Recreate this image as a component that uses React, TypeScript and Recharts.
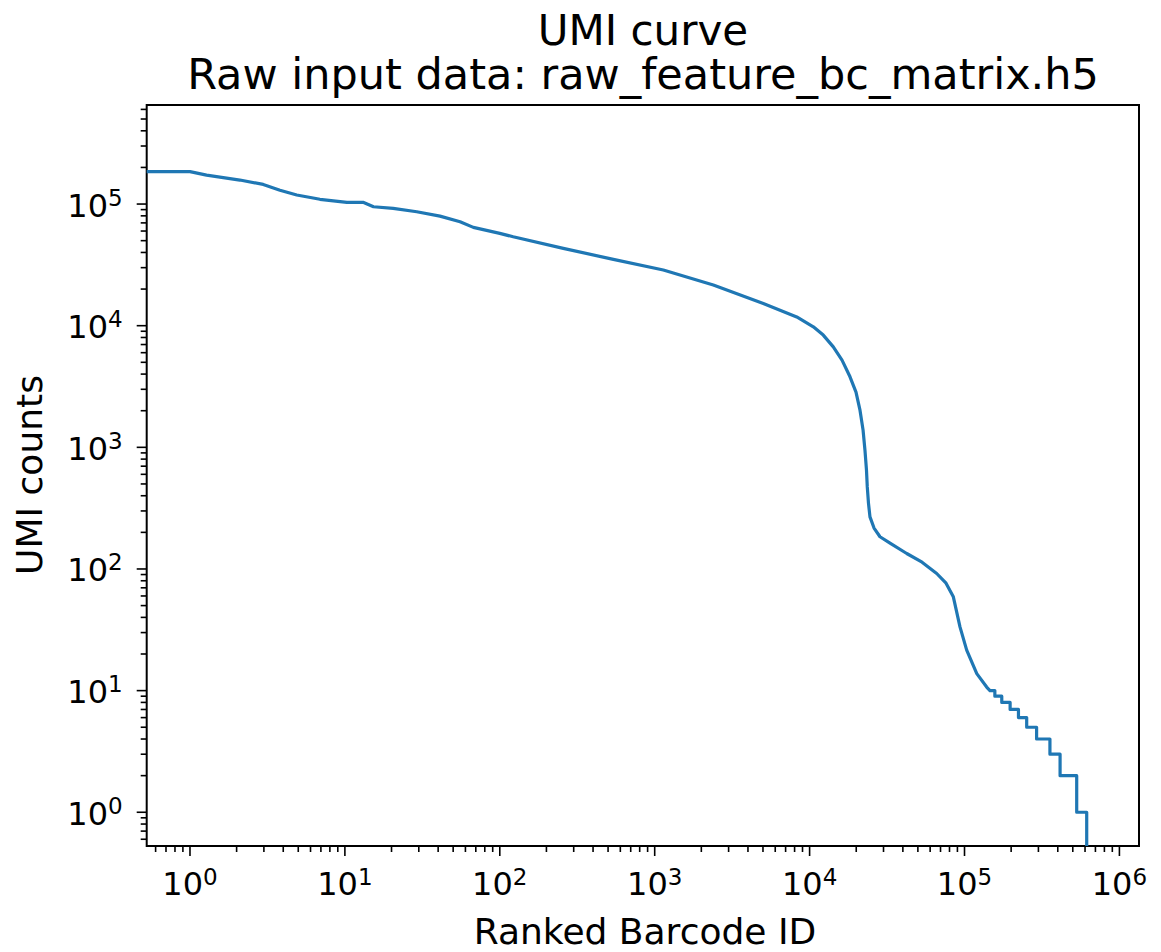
import { LineChart, Line, XAxis, YAxis, ReferenceArea } from "recharts";

// ranked barcode id (x) and UMI count (y)
const ranks = [
  0.5, 1, 1.28, 2.1, 2.97, 3.81, 4.89, 6.9, 10.3, 13.1, 15.3, 20.5, 29.1, 41.1,
  55.4, 67.5, 100, 122, 257, 541, 1137, 2390, 5025, 8260, 10570, 12250, 14220,
  16190, 18230, 19930, 21150, 22140, 22770, 23290, 23570, 23990, 24530, 26060,
  28470, 33040, 42360, 53190, 66130, 76000, 84700, 93500, 103300, 120000,
  139000, 146000, 157000, 157000, 174000, 174000, 197000, 197000, 223000,
  223000, 252000, 252000, 292000, 292000, 356000, 356000, 414000, 414000,
  530000, 530000, 615000, 615000,
];
const umiCounts = [
  184500, 184500, 173000, 157500, 145000, 130000, 118600, 109400, 103300,
  103300, 95000, 92200, 86500, 79600, 71500, 64300, 57400, 53800, 43200, 35100,
  28700, 21600, 15250, 11800, 9800, 8370, 6700, 5215, 3800, 2844, 2020, 1385,
  948, 649, 473, 348, 268, 217, 184, 163, 134, 113.7, 91.8, 76.4, 59, 33.4,
  21.5, 13.8, 10.7, 10, 10, 9, 9, 8, 8, 7, 7, 6, 6, 5, 5, 4, 4, 3, 3, 2, 2, 1,
  1, 0.1,
];

const xExponents = [0, 1, 2, 3, 4, 5, 6];
const yExponents = [0, 1, 2, 3, 4, 5];
const xDomain = [0.5255, 1.338e6];
const yDomain = [0.528, 6.52e5];

const data = ranks.map((r, i) => ({ rank: r, umi: umiCounts[i] }));

function logTicks(domain: number[]) {
  const out: number[] = [];
  for (let e = -2; e <= 7; e++) {
    for (let m = 1; m <= 9; m++) {
      const v = m * Math.pow(10, e);
      if (v >= domain[0] && v <= domain[1]) out.push(v);
    }
  }
  return out;
}

const FONT = "DejaVu Sans, sans-serif";

function isMajor(v: number) {
  const e = Math.log10(v);
  return Math.abs(e - Math.round(e)) < 1e-9;
}

function XTick(props: any) {
  const { x, y, payload } = props;
  const v = payload.value;
  const major = isMajor(v);
  const exp = Math.round(Math.log10(v));
  return (
    <g>
      <line x1={x} x2={x} y1={y} y2={y + (major ? 10 : 6)} stroke="#000" strokeWidth={1.6} />
      {major && xExponents.includes(exp) && (
        <text x={x} y={y + 49} textAnchor="middle" fontFamily={FONT} fontSize={32} fill="#000">
          <tspan>10</tspan>
          <tspan fontSize={23} dy={-10}>{exp}</tspan>
        </text>
      )}
    </g>
  );
}

function YTick(props: any) {
  const { x, y, payload } = props;
  const v = payload.value;
  const major = isMajor(v);
  const exp = Math.round(Math.log10(v));
  return (
    <g>
      <line x1={x} x2={x - (major ? 10 : 6)} y1={y} y2={y} stroke="#000" strokeWidth={1.6} />
      {major && yExponents.includes(exp) && (
        <text x={x - 24} y={y + 12.5} textAnchor="end" fontFamily={FONT} fontSize={32} fill="#000">
          <tspan>10</tspan>
          <tspan fontSize={23} dy={-11}>{exp}</tspan>
        </text>
      )}
    </g>
  );
}

export default function App() {
  return (
    <div style={{ position: "relative", width: 1150, height: 944, background: "#fff" }}>
      <LineChart
        width={1150}
        height={944}
        data={data}
        margin={{ top: 97, right: 19, bottom: 46, left: 0 }}
      >
        <XAxis
          dataKey="rank"
          type="number"
          scale="log"
          domain={xDomain}
          allowDataOverflow
          ticks={logTicks(xDomain)}
          interval={0}
          tick={<XTick />}
          tickLine={false}
          axisLine={false}
          tickSize={0}
          tickMargin={0}
          height={60}
        />
        <YAxis
          dataKey="umi"
          type="number"
          scale="log"
          domain={yDomain}
          allowDataOverflow
          ticks={logTicks(yDomain)}
          interval={0}
          tick={<YTick />}
          tickLine={false}
          axisLine={false}
          tickSize={0}
          tickMargin={0}
          width={138.7}
        />
        <Line
          type="linear"
          dataKey="umi"
          stroke="#1f77b4"
          strokeWidth={3.2}
          strokeLinejoin="round"
          dot={false}
          isAnimationActive={false}
        />
        <ReferenceArea
          x1={xDomain[0]}
          x2={xDomain[1]}
          y1={yDomain[0]}
          y2={yDomain[1]}
          fill="none"
          fillOpacity={0}
          stroke="#000"
          strokeWidth={2}
          ifOverflow="visible"
        />
      </LineChart>
      <svg
        width={1150}
        height={944}
        style={{ position: "absolute", left: 0, top: 0, pointerEvents: "none" }}
      >
        <text x={635} y={37} textAnchor="middle" fontFamily={FONT} fontSize={42} fill="#000">
          UMI curve
        </text>
        <text x={635} y={81} textAnchor="middle" fontFamily={FONT} fontSize={43} fill="#000">
          Raw input data: raw_feature_bc_matrix.h5
        </text>
        <text x={637} y={936} textAnchor="middle" fontFamily={FONT} fontSize={36} fill="#000">
          Ranked Barcode ID
        </text>
        <text
          x={33.5}
          y={467}
          textAnchor="middle"
          fontFamily={FONT}
          fontSize={36}
          fill="#000"
          transform="rotate(-90 33.5 467)"
        >
          UMI counts
        </text>
      </svg>
    </div>
  );
}
